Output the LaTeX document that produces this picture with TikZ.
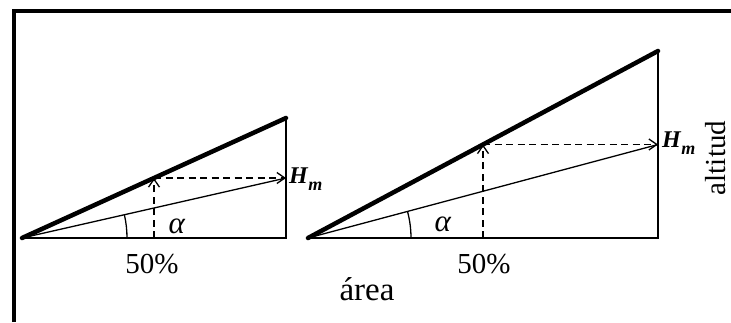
\documentclass[tikz,border=0pt]{standalone}
\usepackage{fontspec}
\setmainfont{Liberation Serif}
\usetikzlibrary{arrows.meta}
\tikzset{
  side/.style={line width=2pt},
  hyp/.style={line width=4.5pt, line cap=round},
  thinl/.style={line width=1.3pt},
  dashl/.style={line width=1.3pt, dash pattern=on 7pt off 4.5pt, -{Straight Barb[length=8pt,width=11pt,line width=1.3pt]}},
  lbl/.style={inner sep=0pt, font=\fontsize{29}{34}\selectfont},
  hmlbl/.style={inner sep=0pt, anchor=base west, font=\fontsize{24}{28}\selectfont},
  frameline/.style={line width=4pt}
}
\newcommand{\hmtext}{\textbf{\textit{H}}\raisebox{-0.3em}{\fontsize{18}{20}\selectfont\textbf{\textit{m}}}}
\begin{document}
\begin{tikzpicture}[x=1pt,y=-1pt]
\useasboundingbox (0,0) rectangle (731,322);
% frame
\coordinate (F0) at (14,322);
\coordinate (F1) at (14,11);
\coordinate (F2) at (731,11);
\draw[frameline] (F0) -- (F1) -- (F2);
% left triangle
\coordinate (A1) at (22,238);
\coordinate (B1) at (286,238);
\coordinate (C1) at (286,118);
\coordinate (M1) at (154,238);
\coordinate (P1) at (154,178);
\coordinate (Q1) at (286,178);
\draw[side] (A1) -- (B1) -- (C1);
\draw[hyp] (A1) -- (C1);
\draw[thinl] (A1) -- (Q1);
\draw[dashl] (M1) -- (P1);
\draw[dashl] (P1) -- (Q1);
\draw[thinl] (A1) ++(105,0) arc[start angle=0, end angle=-12.8, radius=105];
\node[lbl, font=\fontsize{31}{36}\selectfont] (al1) at (177,226) {\textit{α}};
\node[lbl, anchor=base] (p1) at (152,273) {50\%};
\node[hmlbl] (h1) at (289,183) {\hmtext};
% right triangle
\coordinate (A2) at (308,238);
\coordinate (B2) at (658,238);
\coordinate (C2) at (658,51);
\coordinate (M2) at (483,238);
\coordinate (P2) at (483,144.5);
\coordinate (Q2) at (658,144.5);
\draw[side] (A2) -- (B2) -- (C2);
\draw[hyp] (A2) -- (C2);
\draw[thinl] (A2) -- (Q2);
\draw[dashl] (M2) -- (P2);
\draw[dashl] (P2) -- (Q2);
\draw[thinl] (A2) ++(103,0) arc[start angle=0, end angle=-15, radius=103];
\node[lbl, font=\fontsize{31}{36}\selectfont] (al2) at (443,224) {\textit{α}};
\node[lbl, anchor=base] (p2) at (484,273) {50\%};
\node[hmlbl] (h2) at (662,147) {\hmtext};
% axis labels
\node[lbl, anchor=base, font=\fontsize{33}{38}\selectfont] (area) at (367,300) {área};
\node[lbl, rotate=90, anchor=base] (alt) at (725,158) {altitud};
\end{tikzpicture}
\end{document}
